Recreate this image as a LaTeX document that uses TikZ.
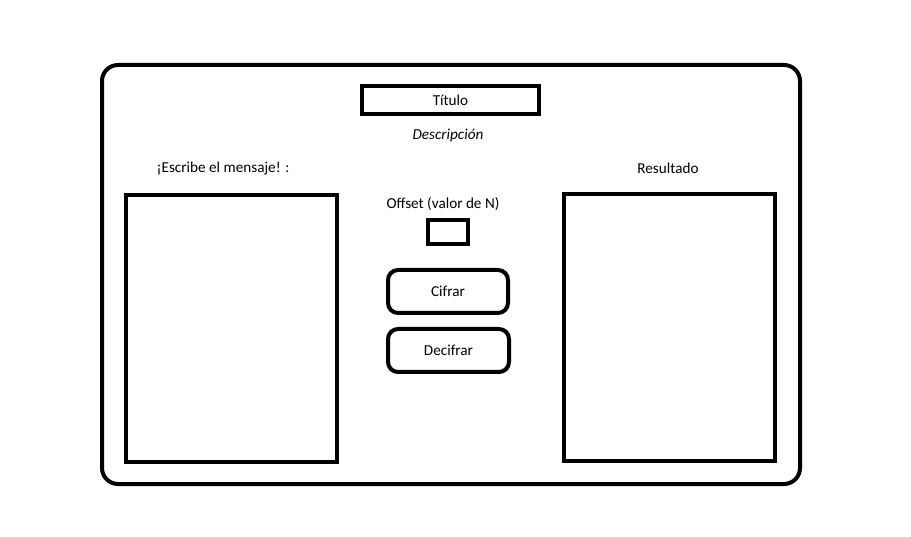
\documentclass[tikz,border=0pt]{standalone}
\usepackage{fontspec}
\setmainfont{Carlito}
\begin{document}
\begin{tikzpicture}[x=1pt,y=-1pt,
  frame/.style={draw=black,line width=4pt},
  btn/.style={draw=black,line width=4pt,rounded corners=10pt},
  lbl/.style={font=\fontsize{15.2}{17}\selectfont,inner sep=0pt}]
\useasboundingbox (0,0) rectangle (911,537);
\fill[white] (0,0) rectangle (911,537);
\draw[frame,rounded corners=16pt] (102,65) rectangle (800,484);
\node[frame,minimum width=177pt,minimum height=28pt,inner sep=0pt,lbl] (titulo) at (450.5,100) {Título};
\node[lbl] (desc) at (448,135) {\itshape Descripción};
\node[lbl] (escribe) at (223,169) {¡Escribe el mensaje! :};
\node[lbl] (resultado) at (668,168) {Resultado};
\node[frame,minimum width=211pt,minimum height=267pt,inner sep=0pt] (left) at (231.5,328.5) {};
\node[frame,minimum width=211pt,minimum height=267pt,inner sep=0pt] (right) at (669.5,327.5) {};
\node[lbl] (offset) at (443,204) {Offset (valor de N)};
\node[frame,minimum width=40pt,minimum height=24pt,inner sep=0pt] (nbox) at (448,232) {};
\node[btn,minimum width=120pt,minimum height=43pt,inner sep=0pt,lbl] (cifrar) at (448,291.5) {Cifrar};
\node[btn,minimum width=121pt,minimum height=43pt,inner sep=0pt,lbl] (decifrar) at (448.5,350.5) {Decifrar};
\end{tikzpicture}
\end{document}
